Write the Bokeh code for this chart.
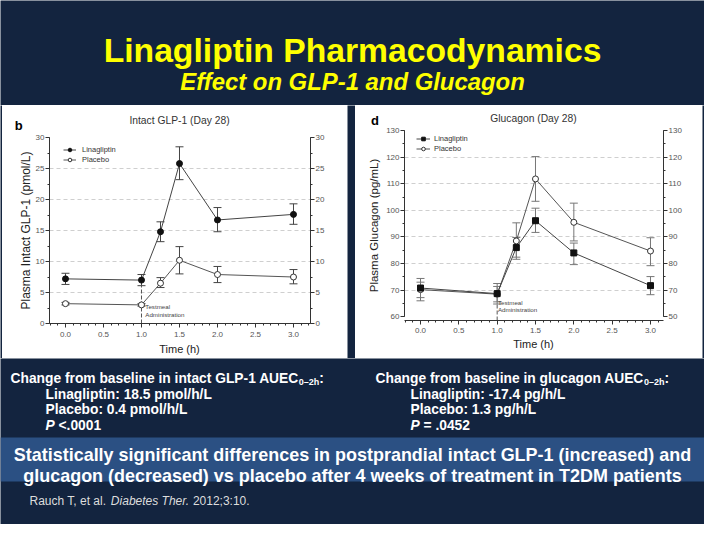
from bokeh.plotting import figure
from bokeh.models import (Range1d, LinearAxis, SingleIntervalTicker, FixedTicker,
                          Whisker, ColumnDataSource, Legend, LegendItem,
                          TeeHead, PrintfTickFormatter, Div)
from bokeh.layouts import column, row
from bokeh.embed import file_html
from bokeh.resources import INLINE
from bokeh.core.properties import value
from bokeh.core.validation import silence
from bokeh.core.validation.warnings import MISSING_RENDERERS

silence(MISSING_RENDERERS, True)

# ---------------- data ----------------
time_h = [0.0, 1.0, 1.25, 1.5, 2.0, 3.0]
series_names = ["Linagliptin", "Placebo"]

glp_lina = [7.2, 7.0, 14.8, 25.8, 16.7, 17.6]
glp_lina_lo = [6.3, 6.1, 13.2, 23.2, 14.8, 16.0]
glp_lina_hi = [8.1, 7.9, 16.4, 28.5, 18.7, 19.3]
glp_plac = [3.2, 3.0, 6.5, 10.2, 7.9, 7.5]
glp_plac_lo = [3.0, 2.8, 5.8, 8.0, 6.6, 6.4]
glp_plac_hi = [3.4, 3.2, 7.4, 12.4, 9.2, 8.7]

gcg_lina = [70.8, 68.7, 86.0, 96.1, 84.0, 71.7]
gcg_lina_lo = [67.2, 64.8, 81.6, 91.7, 79.6, 68.3]
gcg_lina_hi = [74.4, 72.5, 89.8, 100.8, 87.7, 75.1]
gcg_plac = [70.2, 68.5, 88.5, 111.8, 95.5, 84.7]
gcg_plac_lo = [66.0, 65.6, 82.4, 103.4, 88.5, 79.2]
gcg_plac_hi = [73.0, 71.4, 95.3, 120.2, 102.7, 89.7]

testmeal_time = 1.0
testmeal_lines = ["Testmeal", "Administration"]

glp_title = "Intact GLP-1 (Day 28)"
glp_ylabel = "Plasma Intact GLP-1 (pmol/L)"
gcg_title = "Glucagon (Day 28)"
gcg_ylabel = "Plasma Glucagon (pg/mL)"
x_label = "Time (h)"
gcg_right_overrides = {60: "50"}

slide_title = "Linagliptin Pharmacodynamics"
slide_subtitle = "Effect on GLP-1 and Glucagon"
glp_stat_head = "Change from baseline in intact GLP-1 AUEC"
gcg_stat_head = "Change from baseline in glucagon AUEC"
stat_sub = "0\u20132h"
glp_stat_lines = ["Linagliptin: 18.5 pmol/h/L", "Placebo: 0.4 pmol/h/L"]
glp_p = "<.0001"
gcg_stat_lines = ["Linagliptin: -17.4 pg/h/L", "Placebo: 1.3 pg/h/L"]
gcg_p = "= .0452"
band_lines = ["Statistically significant differences in postprandial intact GLP-1 (increased) and",
              "glucagon (decreased) vs placebo after 4 weeks of treatment in T2DM patients"]
citation = ["Rauch T, et al.", "Diabetes Ther.", "2012;3:10."]

# ---------------- style ----------------
FONT = "Liberation Sans"
NAVY = "#13243f"
BAND = "#2b5083"
YELLOW = "#ffff00"

BOLD = {' ': 278, '(': 333, ')': 333, ',': 278, '-': 333, '.': 278, '/': 278, ':': 333, ';': 333,
        '<': 584, '=': 584, '\u2013': 556,
        'A': 722, 'B': 722, 'C': 722, 'D': 722, 'E': 667, 'F': 611, 'G': 778, 'H': 722, 'I': 278,
        'J': 556, 'K': 722, 'L': 611, 'M': 833, 'N': 722, 'O': 778, 'P': 667, 'Q': 778, 'R': 722,
        'S': 667, 'T': 611, 'U': 722, 'V': 667, 'W': 944, 'X': 667, 'Y': 667, 'Z': 611,
        'a': 556, 'b': 611, 'c': 556, 'd': 611, 'e': 556, 'f': 333, 'g': 611, 'h': 611, 'i': 278,
        'j': 278, 'k': 556, 'l': 278, 'm': 889, 'n': 611, 'o': 611, 'p': 611, 'q': 611, 'r': 389,
        's': 556, 't': 333, 'u': 611, 'v': 556, 'w': 778, 'x': 556, 'y': 556, 'z': 500}
REG = {' ': 278, ',': 278, '-': 333, '.': 278, '/': 278, ':': 278, ';': 278, '(': 333, ')': 333,
       'A': 667, 'B': 667, 'C': 722, 'D': 722, 'E': 667, 'F': 611, 'G': 778, 'H': 722, 'I': 278,
       'J': 500, 'K': 667, 'L': 556, 'M': 833, 'N': 722, 'O': 778, 'P': 667, 'Q': 778, 'R': 722,
       'S': 667, 'T': 611, 'U': 722, 'V': 667, 'W': 944, 'X': 667, 'Y': 667, 'Z': 611,
       'a': 556, 'b': 556, 'c': 500, 'd': 556, 'e': 556, 'f': 278, 'g': 556, 'h': 556, 'i': 222,
       'j': 222, 'k': 500, 'l': 222, 'm': 833, 'n': 556, 'o': 556, 'p': 556, 'q': 556, 'r': 333,
       's': 500, 't': 278, 'u': 556, 'v': 500, 'w': 722, 'x': 500, 'y': 500, 'z': 500}


def em(s, table):
    return sum(table.get(c, 556) for c in s) / 1000.0


def base_fig(w, h, bg):
    p = figure(width=w, height=h, x_range=Range1d(0, w), y_range=Range1d(h, 0),
               toolbar_location=None, output_backend="svg", x_axis_type=None, y_axis_type=None,
               min_border=0, background_fill_color=bg, border_fill_color=bg,
               outline_line_color=None, title=None)
    return p


def put(p, x, y, s, size, color, style="bold", align="left", baseline="alphabetic"):
    p.text(x=[x], y=[y], text=[s], text_font=value(FONT), text_font_size=f"{size:.2f}px",
           text_font_style=style, text_color=color, text_align=align, text_baseline=baseline)


def strip(w, h, items):
    spans = []
    for (x, y, txt, size, weight, color) in items:
        spans.append(
            f'<span style="position:absolute;left:{x}px;top:{y}px;'
            f'transform:translate(-50%,-50%);font-family:\'{FONT}\';font-size:{size}px;'
            f'font-weight:{weight};color:{color};white-space:nowrap;line-height:1;">{txt}</span>')
    html = (f'<div style="position:relative;width:{w}px;height:{h}px;background:#ffffff;'
            f'overflow:hidden;margin:0;padding:0;">' + "".join(spans) + '</div>')
    return Div(text=html, width=w, height=h, margin=0,
               styles={"background-color": "#ffffff", "overflow": "hidden"})


# ---------------- header ----------------
hdr = base_fig(704, 105, NAVY)
put(hdr, 352, 50, slide_title, 498 / em(slide_title, BOLD), YELLOW, "bold", "center")
put(hdr, 352, 81, slide_subtitle, 345 / em(slide_subtitle, BOLD), YELLOW, "bold italic", "center")


# ---------------- charts ----------------
def style_axis(ax, label_std):
    ax.axis_line_color = "#333333"
    ax.major_tick_line_color = "#333333"
    ax.minor_tick_line_color = "#333333"
    ax.major_tick_out = 4
    ax.major_tick_in = 0
    ax.minor_tick_out = 2
    ax.minor_tick_in = 0
    ax.major_label_text_font = FONT
    ax.major_label_text_font_size = "8px"
    ax.major_label_text_color = "#555555"
    ax.major_label_standoff = label_std
    ax.axis_label_text_font = FONT
    ax.axis_label_text_font_style = "normal"
    ax.axis_label_text_color = "#222222"


def make_chart(c):
    p = figure(width=c["w"], height=c["h"], x_range=Range1d(*c["xr"]), y_range=Range1d(*c["yr"]),
               toolbar_location=None, output_backend="svg", title=None,
               min_border_left=c["b"][0], min_border_right=c["b"][1],
               min_border_top=c["b"][2], min_border_bottom=c["b"][3],
               background_fill_color="white", border_fill_color="white",
               outline_line_color=None)

    p.xgrid.visible = False
    p.ygrid.ticker = FixedTicker(ticks=c["grid"])
    p.ygrid.grid_line_color = "#cfcfcf"
    p.ygrid.grid_line_dash = "4 3"

    xa = p.xaxis[0]
    xa.ticker = SingleIntervalTicker(interval=0.5, num_minor_ticks=5)
    xa.formatter = PrintfTickFormatter(format="%.1f")
    style_axis(xa, c["xstd"])

    ya = p.yaxis[0]
    ya.ticker = SingleIntervalTicker(interval=c["yint"], num_minor_ticks=2)
    ya.axis_label = c["ylabel"]
    if c["ybounds"]:
        ya.bounds = c["ybounds"]
    style_axis(ya, 1)
    ya.axis_label_text_font_size = f"{c['yls']}px"
    ya.axis_label_standoff = c["ystd"]

    ra = LinearAxis(ticker=SingleIntervalTicker(interval=c["yint"], num_minor_ticks=2))
    if c["ybounds"]:
        ra.bounds = c["ybounds"]
    ra.major_label_overrides = c["rover"]
    style_axis(ra, 1)
    p.add_layout(ra, "right")

    # testmeal dashed line
    lo_at = c["lina_lo"][time_h.index(testmeal_time)]
    p.segment(x0=[testmeal_time], y0=[c["yr"][0]], x1=[testmeal_time], y1=[lo_at],
              line_color="#555555", line_dash="4 2", line_width=1)
    for txt, ty in zip(testmeal_lines, c["tm_y"]):
        p.text(x=[c["tm_x"]], y=[ty], text=[txt], text_font=value(FONT), text_font_size="6.2px",
               text_color="#444444", text_baseline="middle")

    src_l = ColumnDataSource(dict(x=time_h, y=c["lina"], lo=c["lina_lo"], hi=c["lina_hi"]))
    src_p = ColumnDataSource(dict(x=time_h, y=c["plac"], lo=c["plac_lo"], hi=c["plac_hi"]))
    wc = c["wc"]
    for src in (src_p, src_l):
        p.add_layout(Whisker(source=src, base="x", upper="hi", lower="lo", line_color=wc,
                             line_width=1,
                             upper_head=TeeHead(size=8, line_color=wc, line_width=1),
                             lower_head=TeeHead(size=8, line_color=wc, line_width=1)))
    lp = p.line("x", "y", source=src_p, line_color="#555555", line_width=1)
    ll = p.line("x", "y", source=src_l, line_color="#444444", line_width=1)
    sp = p.scatter("x", "y", source=src_p, marker="circle", size=6, fill_color="white",
                   line_color="#333333", line_width=1)
    sl = p.scatter("x", "y", source=src_l, marker=c["lmark"], size=6, fill_color="#111111",
                   line_color="#111111", line_width=1)

    leg = Legend(items=[LegendItem(label=series_names[0], renderers=[ll, sl]),
                        LegendItem(label=series_names[1], renderers=[lp, sp])],
                 location=c["legloc"], margin=0, padding=0, spacing=1,
                 glyph_width=c["legw"], glyph_height=9, label_height=9,
                 label_standoff=c["legstd"], label_text_font=FONT,
                 label_text_font_size="7.5px", label_text_color="#333333",
                 border_line_color=None, background_fill_alpha=0)
    p.add_layout(leg)
    return p


glp_cfg = dict(w=345, h=209, b=(47, 37, 5, 18), xr=(-0.2105, 3.2237), yr=(0, 30),
               grid=[5, 10, 15, 20, 25, 30], yint=5, ybounds=None, rover={},
               ylabel=glp_ylabel, yls=12, ystd=0, xstd=4,
               lina=glp_lina, lina_lo=glp_lina_lo, lina_hi=glp_lina_hi,
               plac=glp_plac, plac_lo=glp_plac_lo, plac_hi=glp_plac_hi,
               lmark="circle", wc="#444444", tm_x=1.05, tm_y=[2.74, 1.45],
               legloc=(14, 159), legw=13, legstd=6)
gcg_cfg = dict(w=347, h=212, b=(49, 39, 4, 18), xr=(-0.2087, 3.1696), yr=(58.6, 130),
               grid=[70, 80, 90, 100, 110, 120, 130], yint=10, ybounds=(60, 130),
               rover=gcg_right_overrides,
               ylabel=gcg_ylabel, yls=11.5, ystd=3, xstd=3,
               lina=gcg_lina, lina_lo=gcg_lina_lo, lina_hi=gcg_lina_hi,
               plac=gcg_plac, plac_lo=gcg_plac_lo, plac_hi=gcg_plac_hi,
               lmark="square", wc="#777777", tm_x=1.01, tm_y=[65.4, 62.7],
               legloc=(12, 167), legw=14, legstd=4)

glp_fig = make_chart(glp_cfg)
gcg_fig = make_chart(gcg_cfg)

glp_top = strip(345, 27, [(177.5, 16, glp_title, 10.3, "normal", "#333333"),
                          (16.7, 20, "b", 13, "bold", "#000000")])
glp_bot = strip(345, 17, [(177.5, 8, x_label, 11, "normal", "#222222")])
gcg_top = strip(347, 21, [(178.5, 13.5, gcg_title, 10.3, "normal", "#333333"),
                          (20, 14.5, "d", 13, "bold", "#000000")])
gcg_bot = strip(347, 20, [(178.5, 6, x_label, 11, "normal", "#222222")])

sp_l = base_fig(2, 253, NAVY)
sp_m = base_fig(8, 253, NAVY)
sp_r = base_fig(2, 253, NAVY)

# ---------------- footer ----------------
foot = base_fig(704, 166, NAVY)
foot.quad(left=[0], right=[704], top=[79], bottom=[123], fill_color=BAND, line_color=None)

FS = 13.8
SUB = 9
base_y = [20, 35.7, 51.4, 67]


def stat_block(x0, xi, head, lines, pval):
    put(foot, x0, base_y[0], head, FS, "white")
    xs = x0 + em(head, BOLD) * FS
    put(foot, xs, base_y[0] + 3, stat_sub, SUB, "white")
    put(foot, xs + em(stat_sub, BOLD) * SUB, base_y[0], ":", FS, "white")
    for s, y in zip(lines, base_y[1:3]):
        put(foot, xi, y, s, FS, "white")
    put(foot, xi, base_y[3], "P", FS, "white", "bold italic")
    put(foot, xi + em("P ", BOLD) * FS, base_y[3], pval, FS, "white")


stat_block(10, 45, glp_stat_head, glp_stat_lines, glp_p)
stat_block(375, 410, gcg_stat_head, gcg_stat_lines, gcg_p)

band_fs = 678 / em(band_lines[0], BOLD)
put(foot, 352, 96, band_lines[0], band_fs, "white", "bold", "center")
put(foot, 352, 117, band_lines[1], band_fs, "white", "bold", "center")

cx = 29
CFS = 12
styles = ["normal", "italic", "normal"]
for piece, st in zip(citation, styles):
    put(foot, cx, 142, piece, CFS, "#dddddd", st)
    cx += em(piece + " ", REG) * CFS

layout = column(hdr,
                row(sp_l, column(glp_top, glp_fig, glp_bot), sp_m,
                    column(gcg_top, gcg_fig, gcg_bot), sp_r),
                foot)

open("out.html", "w").write(file_html(layout, INLINE))
